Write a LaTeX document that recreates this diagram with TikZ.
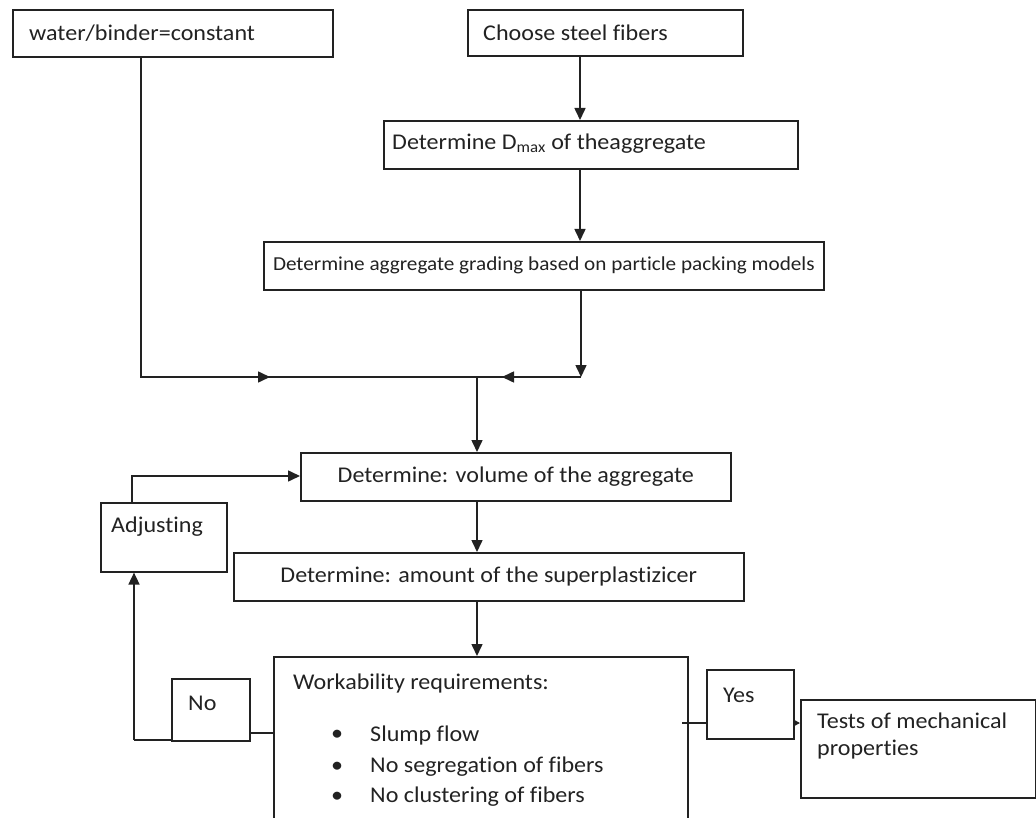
\documentclass[tikz,border=0pt]{standalone}
\usepackage{fontspec}
\setmainfont{Carlito}[Ligatures=NoCommon,FakeStretch=1.07]
\usetikzlibrary{arrows.meta}
\begin{document}
\begin{tikzpicture}[x=1pt,y=-1pt,
  box/.style={draw=ink,line width=1.6pt,inner sep=0pt,anchor=north west},
  txt/.style={text=ink,inner sep=0pt,font=\fontsize{22.5}{27}\selectfont},
  ln/.style={draw=ink,line width=1.6pt},
  arr/.style={ln,-{Triangle[length=12pt,width=11pt]}},
  sarr/.style={ln,-{Triangle[length=5pt,width=5pt]}}]
\definecolor{ink}{HTML}{222222}
\useasboundingbox (0,0) rectangle (1036,818);
% boxes
\node[box,minimum width=320,minimum height=47] (wb) at (12,9) {};
\node[box,minimum width=275,minimum height=46] (sf) at (467,9) {};
\node[box,minimum width=414,minimum height=48] (dm) at (383,120) {};
\node[box,minimum width=560,minimum height=48] (gr) at (263,241) {};
\node[box,minimum width=430,minimum height=48] (vol) at (300,452) {};
\node[box,minimum width=126,minimum height=69] (adj) at (100,502) {};
\node[box,minimum width=510,minimum height=48] (sp) at (233,552) {};
\node[box,minimum width=414,minimum height=200] (wk) at (273,656) {};
\node[box,minimum width=78,minimum height=62] (no) at (171,678) {};
\node[box,minimum width=87,minimum height=69] (yes) at (706,669) {};
\node[box,minimum width=235,minimum height=98] (tm) at (800,699) {};
% texts
\node[txt,anchor=west] at (29,33) {water/binder=constant};
\node[txt,anchor=west] at (483,33) {Choose steel fibers};
\node[txt,anchor=west] at (392,144) {Determine D\textsubscript{max} of theaggregate};
\node[txt,font=\fontsize{19.8}{24}\selectfont] at (gr.center) {Determine aggregate grading based on particle packing models};
\node[txt] at (vol.center) {Determine: volume of the aggregate};
\node[txt] at (sp.center) {Determine: amount of the superplastizicer};
\node[txt,anchor=west] at (111,527) {Adjusting};
\node[txt,anchor=west] at (293,683) {Workability requirements:};
\node[txt] at (337,735) {\textbullet};
\node[txt] at (337,767) {\textbullet};
\node[txt] at (337,797) {\textbullet};
\node[txt,anchor=west] at (370,735) {Slump flow};
\node[txt,anchor=west] at (370,767) {No segregation of fibers};
\node[txt,anchor=west] at (370,797) {No clustering of fibers};
\node[txt,anchor=west] at (188,703) {No};
\node[txt,anchor=west] at (723,695) {Yes};
\node[txt,anchor=west,align=left] at (817,736) {Tests of mechanical\\properties};
% junction coordinates
\coordinate (jL) at (141,377);
\coordinate (jR) at (581,377);
\coordinate (jM) at (477,377);
\coordinate (aL) at (270,377);
\coordinate (aR) at (502,377);
\coordinate (adjT) at (132,476);
\coordinate (noL) at (134,740);
% connectors
\draw[ln] (jL |- wb.south) -- (jL) -- (jR);
\draw[arr] (jL) -- (aL);
\draw[arr] (jR) -- (aR);
\draw[arr] (sf.south -| 580,0) -- (dm.north -| 580,0);
\draw[arr] (dm.south -| 580,0) -- (gr.north -| 580,0);
\draw[arr] (gr.south -| jR) -- (jR);
\draw[arr] (jM) -- (jM |- vol.north);
\draw[arr] (vol.south -| jM) -- (sp.north -| jM);
\draw[arr] (sp.south -| jM) -- (wk.north -| jM);
\draw[arr] (adj.north -| adjT) -- (adjT) -- (adjT -| vol.west);
\draw[ln] (wk.west |- 0,733) -- (no.east |- 0,733);
\draw[ln] (no.west |- noL) -- (noL);
\draw[arr] (noL) -- (noL |- adj.south);
\draw[ln] (682,723) -- (yes.west |- 0,723);
\draw[sarr] (yes.east |- 0,723) -- (tm.west |- 0,723);
\end{tikzpicture}
\end{document}
